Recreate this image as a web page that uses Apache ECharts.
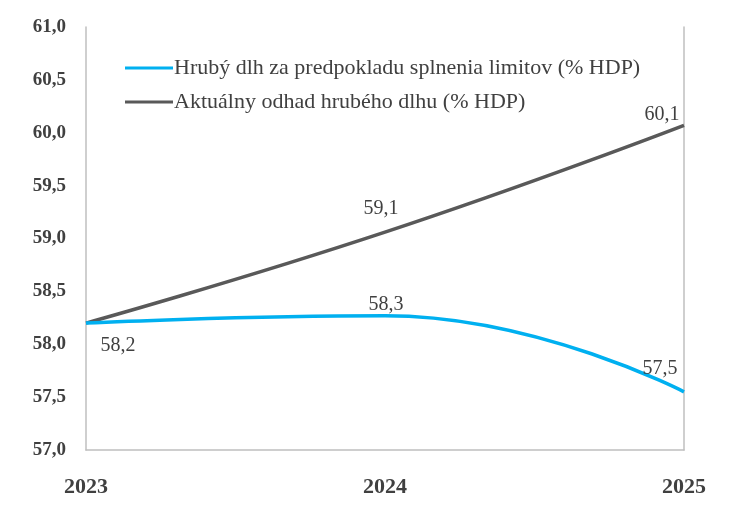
<!DOCTYPE html>
<html>
<head>
<meta charset="utf-8">
<script src="https://cdn.jsdelivr.net/npm/echarts@6/dist/echarts.min.js"></script>
<style>
  html, body { margin: 0; padding: 0; background: #fff; }
  #chart { width: 729px; height: 508px; }
</style>
</head>
<body>
<div id="chart"></div>
<script>
const years = ["2023", "2024", "2025"];
const limitDebt = [58.2, 58.27, 57.55];
const currentDebt = [58.2, 59.06, 60.07];
const limitLabelShow = [true, true, true];
const currentLabelShow = [false, true, true];

const FONT = "Liberation Serif";
const TXT = "#404040";
const fmt = (p) => p.value.toFixed(1).replace(".", ",");

const myChart = echarts.init(document.getElementById("chart"));

const limitLabelPos = [
  { position: "bottom", offset: [32, 8] },
  { position: "top", offset: [1, 4] },
  { position: "top", offset: [-24, -8] }
];
const currentLabelPos = [
  { position: "top" },
  { position: "top", offset: [-4, -8] },
  { position: "top", offset: [-22, 4] }
];

const option = {
  animation: false,
  textStyle: { fontFamily: FONT },
  grid: { left: 86, right: 45, top: 27, bottom: 58 },
  legend: {
    orient: "vertical",
    left: 120,
    top: 52,
    itemGap: 12,
    itemWidth: 48,
    itemHeight: 3,
    icon: "rect",
    textStyle: { fontFamily: FONT, fontSize: 22, color: TXT, padding: [0, 0, 0, -4] },
    data: ["Hrubý dlh za predpokladu splnenia limitov (% HDP)", "Aktuálny odhad hrubého dlhu (% HDP)"]
  },
  xAxis: {
    type: "category",
    data: years,
    boundaryGap: false,
    axisLine: { lineStyle: { color: "#bfbfbf", width: 1.5 } },
    axisTick: { show: false },
    axisLabel: { fontFamily: FONT, fontSize: 22, fontWeight: "bold", color: TXT, margin: 26 }
  },
  yAxis: [
    {
      type: "value",
      min: 57,
      max: 61,
      interval: 0.5,
      splitLine: { show: false },
      axisLine: { show: true, lineStyle: { color: "#bfbfbf", width: 1.5 } },
      axisTick: { show: false },
      axisLabel: {
        fontFamily: FONT, fontSize: 19, fontWeight: "bold", color: TXT, margin: 20,
        formatter: (v) => v.toFixed(1).replace(".", ",")
      }
    },
    {
      type: "value",
      min: 57,
      max: 61,
      interval: 0.5,
      position: "right",
      splitLine: { show: false },
      axisLine: { show: true, lineStyle: { color: "#bfbfbf", width: 1.5 } },
      axisTick: { show: false },
      axisLabel: { show: false }
    }
  ],
  series: [
    {
      name: "Aktuálny odhad hrubého dlhu (% HDP)",
      type: "line",
      smooth: 0.5,
      showSymbol: true,
      symbol: "circle",
      symbolSize: 0,
      lineStyle: { color: "#595959", width: 3.5 },
      itemStyle: { color: "#595959" },
      label: { fontFamily: FONT, fontSize: 20, color: TXT, formatter: fmt },
      data: currentDebt.map((v, i) => ({
        value: v,
        label: Object.assign({ show: currentLabelShow[i] }, currentLabelPos[i])
      }))
    },
    {
      name: "Hrubý dlh za predpokladu splnenia limitov (% HDP)",
      type: "line",
      smooth: 0.5,
      showSymbol: true,
      symbol: "circle",
      symbolSize: 0,
      lineStyle: { color: "#00b0f0", width: 3.5 },
      itemStyle: { color: "#00b0f0" },
      label: { fontFamily: FONT, fontSize: 20, color: TXT, formatter: fmt },
      data: limitDebt.map((v, i) => ({
        value: v,
        label: Object.assign({ show: limitLabelShow[i] }, limitLabelPos[i])
      }))
    }
  ]
};

myChart.setOption(option);
window.onresize = function () {
  myChart.resize();
};
</script>
</body>
</html>
